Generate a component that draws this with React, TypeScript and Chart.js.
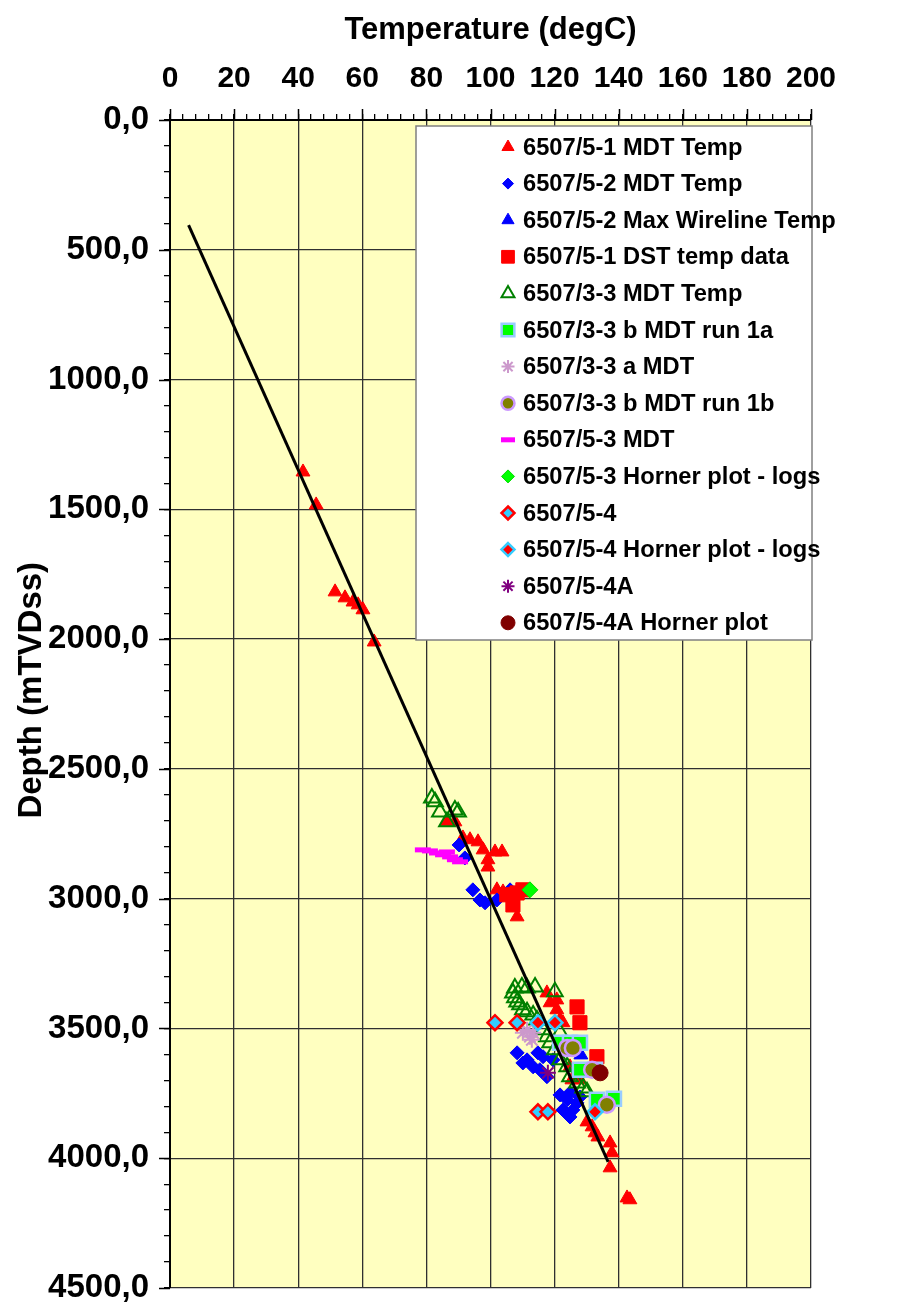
import React, { useEffect, useRef } from 'react';
import { Chart, registerables } from 'chart.js';

Chart.register(...registerables);

const FONT = '"Liberation Sans", Arial, Helvetica, sans-serif';

// [temperature degC, depth mTVDss]
const mdt51: number[][] = [
  [41.5, 1356], [45.6, 1483], [51.5, 1818], [54.6, 1841], [57.1, 1857], [58.7, 1868], [60.2, 1887], [63.7, 2011],
  [86.4, 2704], [88.9, 2704], [91.4, 2766], [93.6, 2773], [96.1, 2781], [97.7, 2812], [99.2, 2850], [101.4, 2820],
  [103.6, 2820], [99.2, 2878], [102.0, 2966], [103.9, 2974], [106.1, 2978], [109.8, 2974], [108.3, 3070],
  [117.6, 3363], [118.6, 3401], [120.7, 3428], [121.7, 3467], [122.6, 3478], [120.7, 3390], [124.8, 3648],
  [125.4, 3698], [127.9, 3698], [130.1, 3860], [131.7, 3879], [132.6, 3902], [133.5, 3918], [137.3, 3941],
  [137.9, 3979], [137.3, 4037], [142.6, 4153], [143.5, 4160],
];
const mdt52: number[][] = [
  [90.2, 2793], [92.0, 2843], [94.5, 2966], [96.7, 3005], [98.3, 3016], [102.0, 3005], [106.1, 2966],
  [108.3, 3594], [110.1, 3633], [111.4, 3621], [113.3, 3648], [114.8, 3594], [116.4, 3609], [115.4, 3659],
  [117.6, 3686], [119.5, 3621], [121.7, 3756], [123.9, 3775], [122.6, 3814], [124.8, 3841], [125.7, 3814],
  [127.0, 3787], [124.8, 3748], [127.9, 3764],
];
const wireline52: number[][] = [[128.2, 3602]];
const dst51: number[][] = [
  [105.1, 2985], [108.3, 2978], [110.1, 2966], [107.0, 3024], [127.0, 3417], [127.9, 3478], [133.2, 3609],
];
const mdt33: number[][] = [
  [81.7, 2612], [82.7, 2627], [84.2, 2666], [88.9, 2658], [89.9, 2666], [86.4, 2704],
  [107.6, 3344], [109.8, 3340], [111.4, 3344], [113.9, 3340], [120.1, 3359], [107.0, 3363], [107.6, 3382],
  [108.3, 3398], [109.2, 3409], [110.1, 3428], [111.4, 3436], [113.3, 3448], [114.5, 3467], [116.4, 3505],
  [117.6, 3532], [118.6, 3555], [120.1, 3582], [121.7, 3621], [123.9, 3648], [124.8, 3686], [127.0, 3710],
  [128.9, 3729], [130.1, 3744], [121.7, 3517],
];
const mdt33bRun1a: number[][] = [
  [121.7, 3555], [124.8, 3555], [127.9, 3555], [127.9, 3659], [132.6, 3659], [133.2, 3775], [138.5, 3771],
];
const mdt33a: number[][] = [[110.1, 3517], [111.4, 3505], [112.3, 3532], [113.3, 3517], [112.9, 3544]];
const mdt33bRun1b: number[][] = [[123.9, 3575], [125.7, 3575], [131.7, 3659], [136.3, 3794]];
const mdt53: number[][] = [
  [78.9, 2812], [81.1, 2816], [83.3, 2824], [85.2, 2831], [86.4, 2820], [87.4, 2839], [88.9, 2850], [90.5, 2858],
];
const horner53: number[][] = [[112.3, 2966]];
const well54: number[][] = [[101.4, 3478], [108.3, 3478], [114.8, 3821], [117.9, 3821]];
const horner54: number[][] = [[114.8, 3478], [120.1, 3478], [132.6, 3821]];
const well54A: number[][] = [[117.9, 3671]];
const horner54A: number[][] = [[134.2, 3671]];
const trendLine: number[][] = [[5.8, 405], [136.7, 4014]];

const xTickStep = 4;
const xLabelStep = 20;
const yTickStep = 100;
const yLabelStep = 500;

type Series = {
  label: string;
  data: number[][];
  pointStyle: string;
  radius: number;
  legendRadius: number;
  bg: string;
  border: string;
  bw: number;
};

const seriesList: Series[] = [
  { label: '6507/5-1 MDT Temp', data: mdt51, pointStyle: 'triangle', radius: 8, legendRadius: 7, bg: '#FF0000', border: '#FF0000', bw: 1 },
  { label: '6507/5-2 MDT Temp', data: mdt52, pointStyle: 'rectRot', radius: 7, legendRadius: 5.5, bg: '#0000FF', border: '#0000FF', bw: 1 },
  { label: '6507/5-2 Max Wireline Temp', data: wireline52, pointStyle: 'triangle', radius: 8, legendRadius: 7, bg: '#0000FF', border: '#0000FF', bw: 1 },
  { label: '6507/5-1 DST temp data', data: dst51, pointStyle: 'rect', radius: 10, legendRadius: 9, bg: '#FF0000', border: '#FF0000', bw: 1 },
  { label: '6507/3-3 MDT Temp', data: mdt33, pointStyle: 'triangle', radius: 9, legendRadius: 7.5, bg: 'rgba(0,0,0,0)', border: '#008000', bw: 2 },
  { label: '6507/3-3 b MDT run 1a', data: mdt33bRun1a, pointStyle: 'rect', radius: 10, legendRadius: 9, bg: '#00FF00', border: '#99CCFF', bw: 2.5 },
  { label: '6507/3-3 a MDT', data: mdt33a, pointStyle: 'star', radius: 8, legendRadius: 6.5, bg: '#CC99CC', border: '#CC99CC', bw: 2 },
  { label: '6507/3-3 b MDT run 1b', data: mdt33bRun1b, pointStyle: 'circle', radius: 8, legendRadius: 6.5, bg: '#808000', border: '#CC99FF', bw: 2.5 },
  { label: '6507/5-3 MDT', data: mdt53, pointStyle: 'line', radius: 8, legendRadius: 7, bg: '#FF00FF', border: '#FF00FF', bw: 5 },
  { label: '6507/5-3 Horner plot - logs', data: horner53, pointStyle: 'rectRot', radius: 8, legendRadius: 6.5, bg: '#00FF00', border: '#00DD00', bw: 1 },
  { label: '6507/5-4', data: well54, pointStyle: 'rectRot', radius: 7.5, legendRadius: 6.5, bg: '#33CCFF', border: '#FF0000', bw: 2.5 },
  { label: '6507/5-4 Horner plot - logs', data: horner54, pointStyle: 'rectRot', radius: 7.5, legendRadius: 6.5, bg: '#FF0000', border: '#33CCFF', bw: 2.5 },
  { label: '6507/5-4A', data: well54A, pointStyle: 'star', radius: 8, legendRadius: 6.5, bg: '#800080', border: '#800080', bw: 2 },
  { label: '6507/5-4A Horner plot', data: horner54A, pointStyle: 'circle', radius: 8, legendRadius: 7, bg: '#800000', border: '#800000', bw: 1 },
];

const toXY = (arr: number[][]) => arr.map(([x, y]) => ({ x, y }));

function drawMarker(ctx: CanvasRenderingContext2D, s: Series, x: number, y: number) {
  const r = s.legendRadius;
  ctx.save();
  ctx.beginPath();
  ctx.lineWidth = s.bw;
  ctx.strokeStyle = s.border;
  ctx.fillStyle = s.bg;
  let fill = true;
  switch (s.pointStyle) {
    case 'triangle': {
      ctx.moveTo(x, y - r);
      ctx.lineTo(x + 0.866 * r, y + 0.5 * r);
      ctx.lineTo(x - 0.866 * r, y + 0.5 * r);
      ctx.closePath();
      break;
    }
    case 'rectRot': {
      ctx.moveTo(x, y - r);
      ctx.lineTo(x + r, y);
      ctx.lineTo(x, y + r);
      ctx.lineTo(x - r, y);
      ctx.closePath();
      break;
    }
    case 'rect': {
      const h = Math.SQRT1_2 * r;
      ctx.rect(x - h, y - h, 2 * h, 2 * h);
      break;
    }
    case 'circle': {
      ctx.arc(x, y, r, 0, Math.PI * 2);
      break;
    }
    case 'star': {
      fill = false;
      const d = Math.SQRT1_2 * r;
      ctx.moveTo(x - r, y); ctx.lineTo(x + r, y);
      ctx.moveTo(x, y - r); ctx.lineTo(x, y + r);
      ctx.moveTo(x - d, y - d); ctx.lineTo(x + d, y + d);
      ctx.moveTo(x - d, y + d); ctx.lineTo(x + d, y - d);
      break;
    }
    case 'line': {
      fill = false;
      ctx.moveTo(x - r, y); ctx.lineTo(x + r, y);
      break;
    }
  }
  if (fill) ctx.fill();
  ctx.stroke();
  ctx.restore();
}

const bgPlugin = {
  id: 'bgPlugin',
  beforeDraw(chart: any) {
    const { ctx, chartArea: a } = chart;
    ctx.save();
    ctx.fillStyle = '#FFFFFF';
    ctx.fillRect(0, 0, chart.width, chart.height);
    ctx.fillStyle = '#FFFFC0';
    ctx.fillRect(a.left, a.top, a.right - a.left, a.bottom - a.top);
    ctx.restore();
  },
};

const majorTickPlugin = {
  id: 'majorTicks',
  afterDraw(chart: any) {
    const { ctx, chartArea: a, scales } = chart;
    ctx.save();
    ctx.strokeStyle = '#000';
    ctx.lineWidth = 1.5;
    ctx.beginPath();
    for (let v = 0; v <= 200; v += xLabelStep) {
      const px = Math.round(scales.x.getPixelForValue(v)) + 0.5;
      ctx.moveTo(px, a.top);
      ctx.lineTo(px, a.top - 11);
    }
    for (let v = 0; v <= 4500; v += yLabelStep) {
      const py = Math.round(scales.y.getPixelForValue(v)) + 0.5;
      ctx.moveTo(a.left, py);
      ctx.lineTo(a.left - 11, py);
    }
    ctx.stroke();
    ctx.restore();
  },
};

const legendPlugin = {
  id: 'customLegend',
  afterDraw(chart: any) {
    const { ctx } = chart;
    const left = 416, top = 126, right = 812, bottom = 640;
    ctx.save();
    ctx.fillStyle = '#FFFFFF';
    ctx.fillRect(left, top, right - left, bottom - top);
    ctx.strokeStyle = '#808080';
    ctx.lineWidth = 1.5;
    ctx.strokeRect(left, top, right - left, bottom - top);
    ctx.font = `bold 23.7px ${FONT}`;
    ctx.textBaseline = 'middle';
    ctx.textAlign = 'left';
    seriesList.forEach((s, i) => {
      const y = 147 + i * 36.6;
      drawMarker(ctx, s, 508, y);
      ctx.fillStyle = '#000';
      ctx.fillText(s.label, 523, y + 1);
    });
    ctx.restore();
  },
};

export default function App() {
  const canvasRef = useRef<HTMLCanvasElement | null>(null);

  useEffect(() => {
    document.body.style.margin = '0';
    const canvas = canvasRef.current;
    if (!canvas) return;

    const datasets: any[] = seriesList.map((s, i) => ({
      type: 'scatter',
      label: s.label,
      data: toXY(s.data),
      pointStyle: s.pointStyle,
      pointRadius: s.radius,
      backgroundColor: s.bg,
      borderColor: s.border,
      borderWidth: s.bw,
      showLine: false,
      order: 100 - i,
    }));
    datasets.push({
      type: 'line',
      label: 'trend',
      data: toXY(trendLine),
      borderColor: '#000000',
      borderWidth: 3,
      pointRadius: 0,
      fill: false,
      order: 0,
    });

    const chart = new Chart(canvas, {
      type: 'scatter',
      data: { datasets },
      options: {
        responsive: false,
        animation: false,
        layout: { padding: { left: 0, top: 0, right: 94, bottom: 16 } },
        plugins: {
          legend: { display: false },
          tooltip: { enabled: false },
        },
        scales: {
          x: {
            type: 'linear',
            position: 'top',
            min: 0,
            max: 200,
            ticks: {
              stepSize: xTickStep,
              autoSkip: false,
              maxRotation: 0,
              padding: 17,
              color: '#000',
              font: { family: FONT, size: 30, weight: 'bold' },
              callback: (v: any) => (Number(v) % xLabelStep === 0 ? String(v) : ''),
            },
            grid: {
              color: (c: any) => (c.tick && c.tick.value % xLabelStep === 0 ? '#303030' : 'rgba(0,0,0,0)'),
              tickColor: '#000',
              tickLength: 6,
              lineWidth: 1.3,
            },
            border: { color: '#000', width: 2 },
            title: {
              display: true,
              text: 'Temperature (degC)',
              color: '#000',
              font: { family: FONT, size: 31, weight: 'bold' },
              padding: { top: 12, bottom: 0 },
            },
            afterFit: (s: any) => { s.height = 120; s.paddingLeft = 0; s.paddingRight = 0; },
          },
          y: {
            type: 'linear',
            position: 'left',
            min: 0,
            max: 4500,
            reverse: true,
            ticks: {
              stepSize: yTickStep,
              autoSkip: false,
              padding: 15,
              color: '#000',
              font: { family: FONT, size: 33, weight: 'bold' },
              callback: (v: any) => (Number(v) % yLabelStep === 0 ? Number(v).toFixed(1).replace('.', ',') : ''),
            },
            grid: {
              color: (c: any) => (c.tick && c.tick.value % yLabelStep === 0 ? '#303030' : 'rgba(0,0,0,0)'),
              tickColor: '#000',
              tickLength: 6,
              lineWidth: 1.3,
            },
            border: { color: '#000', width: 2 },
            title: {
              display: true,
              text: '   Depth (mTVDss)',
              color: '#000',
              font: { family: FONT, size: 33, weight: 'bold' },
              padding: { top: 12, bottom: 0 },
            },
            afterFit: (s: any) => { s.width = 170; s.paddingTop = 0; s.paddingBottom = 0; },
          },
        },
      } as any,
      plugins: [bgPlugin, majorTickPlugin, legendPlugin],
    });

    return () => chart.destroy();
  }, []);

  return (
    <div style={{ width: 905, height: 1304 }}>
      <canvas ref={canvasRef} width={905} height={1304} style={{ display: 'block' }} />
    </div>
  );
}
